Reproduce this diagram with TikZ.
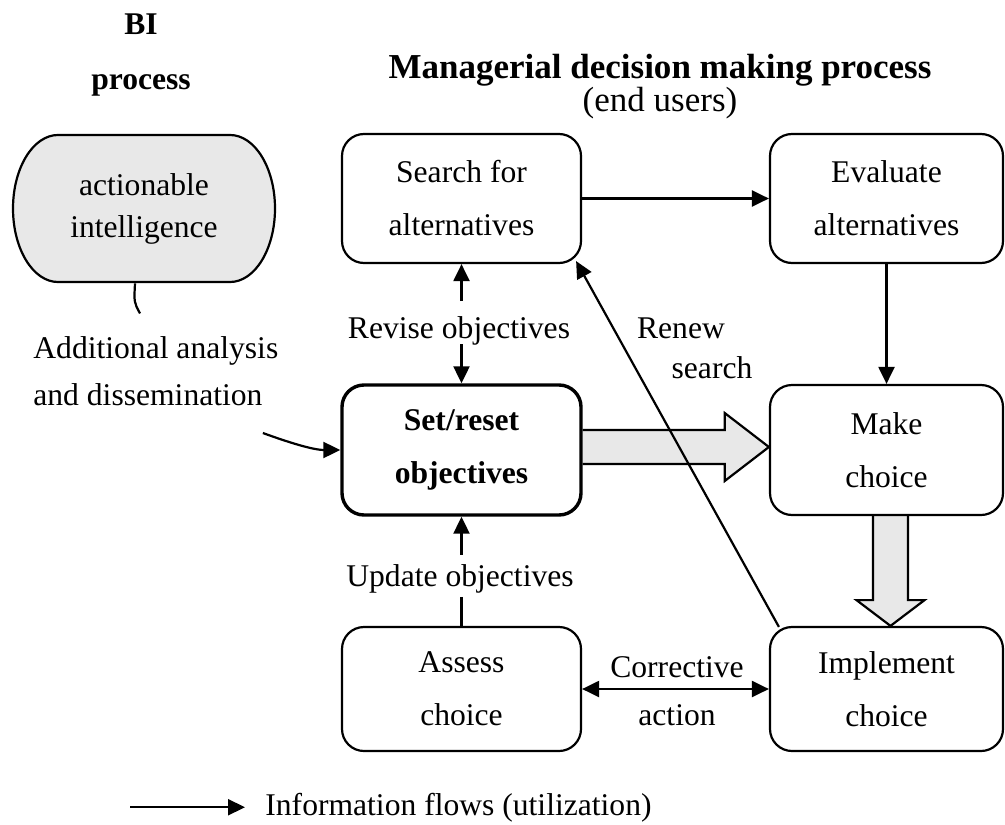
\documentclass[tikz,border=0pt]{standalone}
\usepackage{fontspec}
\setmainfont{Liberation Serif}
\usetikzlibrary{arrows.meta,calc,backgrounds}
\definecolor{panelgrey}{HTML}{E8E8E8}
\newcommand{\diagfont}{\fontsize{15.8}{26.5}\selectfont}
\begin{document}
\begin{tikzpicture}[x=0.5pt,y=-0.5pt,
  box/.style={draw, line width=1.1pt, rounded corners=11pt, align=center, inner sep=0pt, font=\diagfont},
  lbl/.style={font=\diagfont, inner sep=0pt, anchor=base},
  flow/.style={line width=1.1pt, -{Triangle[length=8.5pt,width=8pt]}},
  twoway/.style={line width=1.1pt, {Triangle[length=8.5pt,width=8pt]}-{Triangle[length=8.5pt,width=8pt]}},
  fat/.style={draw, line width=1.1pt, fill=panelgrey, line join=miter}]
\useasboundingbox (0,0) rectangle (1005,824);

% headings
\node[lbl, font=\diagfont\bfseries] (hbi) at (141,35) {BI};
\node[lbl, font=\diagfont\bfseries] (hproc) at (141,90) {process};
\node[lbl, font=\fontsize{17.5}{21}\selectfont\bfseries] (hmdm) at (660,79) {Managerial decision making process};
\node[lbl, font=\fontsize{17.5}{21}\selectfont] (hend) at (660,112) {(end users)};

% BI process: actionable intelligence
\filldraw[fill=panelgrey, line width=1.1pt]
  (58,135) -- (230,135)
  arc[start angle=-90, end angle=90, x radius=45, y radius=73.5]
  -- (58,282)
  arc[start angle=90, end angle=270, x radius=45, y radius=73.5] -- cycle;
\node[font=\fontsize{15.8}{21}\selectfont, align=center, inner sep=0pt,
      minimum width=131pt, minimum height=73.5pt] (bi) at (144,208.5) {actionable\\intelligence};

% decision process steps
\node[box, minimum width=119.5pt, minimum height=64.5pt] (search) at (461.5,198.5) {Search for\\alternatives};
\node[box, minimum width=116.5pt, minimum height=64.5pt] (eval) at (886.5,198.5) {Evaluate\\alternatives};
\node[box, line width=1.7pt, minimum width=119.5pt, minimum height=65pt, font=\diagfont\bfseries] (setr) at (461.5,450) {Set/reset\\objectives};
\node[box, minimum width=116.5pt, minimum height=65pt] (make) at (886.5,450) {Make\\choice};
\node[box, minimum width=119.5pt, minimum height=62pt] (assess) at (461.5,689) {Assess\\choice};
\node[box, minimum width=116.5pt, minimum height=62pt] (impl) at (886.5,689) {Implement\\choice};

% wide grey arrows
\begin{scope}[on background layer]
  \coordinate (fa) at ($(setr.east)+(0,-3)$);
  \draw[fat] ($(fa)+(0,-17)$) -- ($(fa)+(142,-17)$) -- ($(fa)+(142,-34)$)
    -- ($(make.west)+(0,-3)$) -- ($(fa)+(142,34)$) -- ($(fa)+(142,17)$) -- ($(fa)+(0,17)$);
  \coordinate (fb) at ($(make.south)+(4,0)$);
  \draw[fat] ($(fb)+(-17.5,0)$) -- ($(fb)+(-17.5,84)$) -- ($(fb)+(-34,84)$)
    -- ($(impl.north)+(4,0)$) -- ($(fb)+(34,84)$) -- ($(fb)+(17.5,84)$) -- ($(fb)+(17.5,0)$);
\end{scope}

% labels
\node[lbl] (revise) at (459,338) {Revise objectives};
\node[lbl] (renew) at (681,338) {Renew};
\node[lbl] (rsearch) at (712,378) {search};
\node[lbl] (update) at (460,586) {Update objectives};
\node[lbl] (corr) at (677,677) {Corrective};
\node[lbl] (action) at (677,725) {action};
\node[lbl, anchor=base west] (addA) at (33,358) {Additional analysis};
\node[lbl, anchor=base west] (addB) at (33,405) {and dissemination};

% information flows
\draw[flow] (search) -- (eval);
\draw[flow] (eval) -- (make);
\draw[flow] ($(search.south)+(0,37)$) -- (search.south);
\draw[flow] ($(setr.north)+(0,-39)$) -- (setr.north);
\draw[flow] ($(setr.south)+(0,38)$) -- (setr.south);
\draw[line width=1.1pt] ($(assess.north)+(0,-29)$) -- (assess.north);
\draw[twoway] (assess) -- (impl);
\draw[flow] ($(impl.north west)+(10,1)$) -- ($(search.south east)+(-6,-3)$);
\draw[flow] ($(addB.base east)+(0,28)$) .. controls ($(addB.base east)+(33,40)$) and ($(setr.west)+(-25,0)$) .. (setr.west);
\coordinate (biend) at ($(bi.south)+(-4,31)$);
\draw[line width=1.1pt] ($(bi.south)+(-9,1)$) .. controls ($(bi.south)+(-10,20)$) .. (biend);

% legend
\node[lbl, anchor=base west] (legend) at (265,815) {Information flows (utilization)};
\coordinate (lg) at ($(legend.west)+(-135,0)$);
\draw[flow] (lg) -- ($(legend.west)+(-20,0)$);
\end{tikzpicture}
\end{document}
